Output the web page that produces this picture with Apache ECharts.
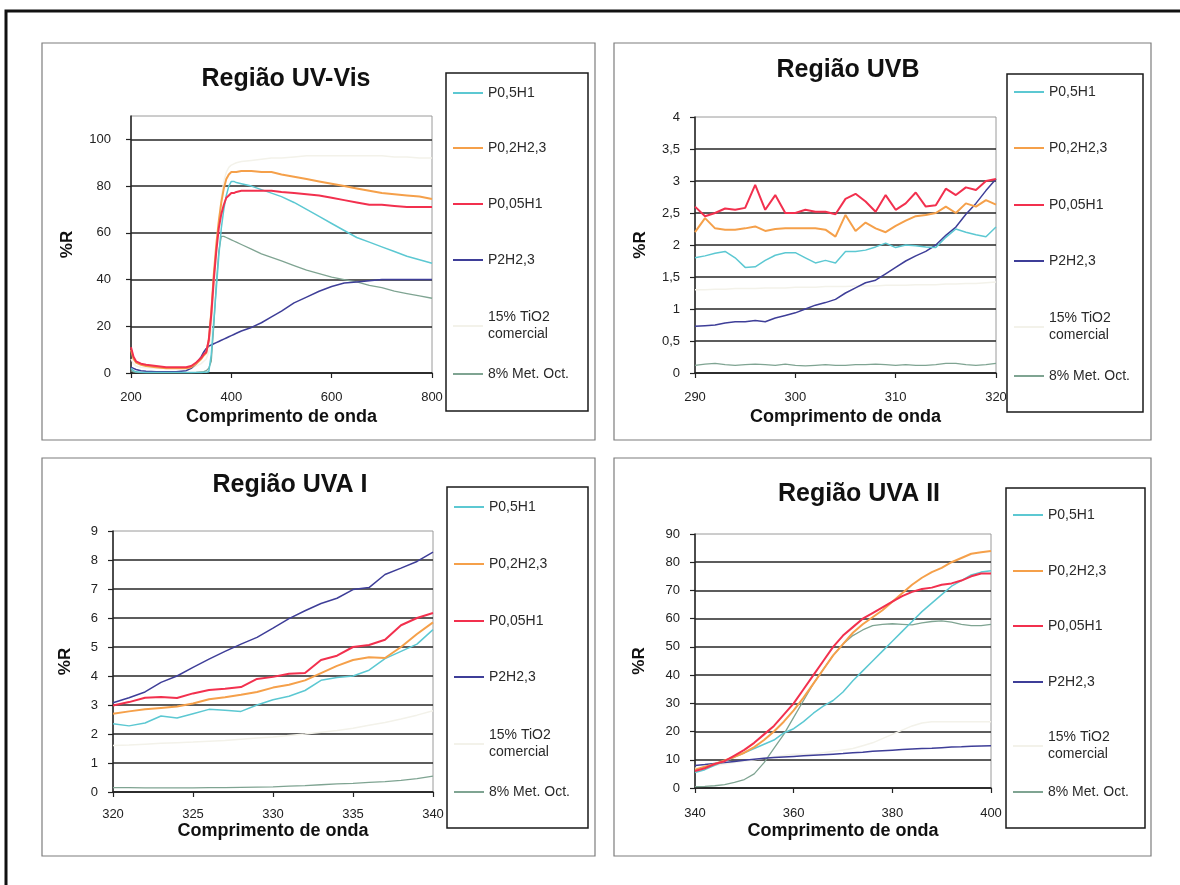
<!DOCTYPE html>
<html>
<head>
<meta charset="utf-8">
<script src="https://cdn.jsdelivr.net/npm/echarts@6/dist/echarts.min.js"></script>
<style>
html,body{margin:0;padding:0;background:#fff}
#chart{width:1180px;height:885px}
</style>
</head>
<body>
<div id="chart"></div>
<script>
// Sample names, in legend order
const seriesNames = ['P0,5H1', 'P0,2H2,3', 'P0,05H1', 'P2H2,3', '15% TiO2\ncomercial', '8% Met. Oct.'];
const seriesColors = ['#5cc8d2', '#f5a04a', '#f2304e', '#3e3e98', '#f3f2ea', '#7fa492'];
const seriesWidths = [1.5, 2, 2, 1.5, 1.5, 1.3];

// Região UV-Vis (200–800 nm)
const uvvisWavelength = [200,205,210,220,230,250,270,290,310,320,330,340,345,350,355,360,365,370,375,380,385,390,395,400,405,410,420,440,460,480,500,525,550,575,600,625,650,675,700,725,750,775,800];
const uvvisP05H1 = [2,1,0.5,0.3,0.2,0.2,0.2,0.2,0.2,0.2,0.2,0.2,0.3,0.3,0.5,8,22,36,50,62,70,76,80,82,82,81.5,81,80,78.5,77,75.5,73,70,67,64,61,58,56,54,52,50,48.5,47];
const uvvisP02H23 = [10,6,4.5,3.5,3,2.5,2,2,2,2.5,4,6,7.5,8.5,14,26,42,55,65,73,79,83,85,86,86,86,86.5,86.5,86,86,85,84,83,82,81,80,79,78,77,76.5,76,75.5,74.5];
const uvvisP005H1 = [11,7,5,4,3.5,3,2.5,2.5,2.5,3,4.5,6.5,8,9,14,25,40,52,62,68,72,75,76,77,77,77.5,78,78,78,78,77.5,77,76.5,76,75,74,73,72,72,71.5,71,71,71];
const uvvisP2H23 = [2.5,2,1.5,1,0.8,0.5,0.5,0.5,1,2,4,7,9,10.5,11.5,12,12.5,13,13.5,14,14.5,15,15.5,16,16.5,17,18,19.5,21.5,24,26.5,30,32.5,35,37,38.5,39,39.5,40,40,40,40,40];
const uvvisTiO2 = [6,4,3,2.5,2.2,2,2,2,2,2.2,3,4,5,6,9,18,35,52,65,75,82,86,88,89,89.5,90,90.5,91,91.5,92,92,92.5,93,93,93,93,93,93,93,92.5,92.5,92,92];
const uvvisMetOct = [1,0.5,0.3,0.2,0.2,0.2,0.2,0.2,0.2,0.2,0.3,0.5,0.6,1,2,5,20,38,52,58.5,58.5,58,57.5,57,56.5,56,55,53,51,49.5,48,46,44,42.5,41,40,39,37.5,36.5,35,34,33,32];

// Região UVB (290–320 nm)
const uvbWavelength = [290,291,292,293,294,295,296,297,298,299,300,301,302,303,304,305,306,307,308,309,310,311,312,313,314,315,316,317,318,319,320];
const uvbP05H1 = [1.8,1.83,1.87,1.9,1.8,1.65,1.66,1.76,1.84,1.88,1.88,1.8,1.72,1.76,1.72,1.9,1.9,1.92,1.97,2.03,1.96,2.0,1.99,1.97,1.96,2.12,2.25,2.2,2.16,2.13,2.28];
const uvbP02H23 = [2.2,2.42,2.26,2.24,2.24,2.26,2.29,2.22,2.25,2.26,2.26,2.26,2.26,2.24,2.13,2.47,2.22,2.35,2.26,2.2,2.3,2.38,2.45,2.47,2.5,2.6,2.5,2.65,2.6,2.7,2.63];
const uvbP005H1 = [2.6,2.45,2.5,2.57,2.55,2.58,2.94,2.55,2.78,2.5,2.5,2.55,2.52,2.52,2.48,2.72,2.8,2.68,2.52,2.78,2.55,2.65,2.82,2.6,2.62,2.88,2.78,2.9,2.86,3.0,3.03];
const uvbP2H23 = [0.73,0.74,0.75,0.78,0.8,0.8,0.82,0.8,0.86,0.9,0.94,1.0,1.06,1.1,1.15,1.25,1.33,1.41,1.45,1.55,1.65,1.75,1.83,1.9,2.0,2.15,2.28,2.48,2.65,2.85,3.03];
const uvbTiO2 = [1.3,1.3,1.31,1.31,1.32,1.32,1.32,1.33,1.33,1.33,1.34,1.34,1.34,1.35,1.35,1.35,1.36,1.36,1.36,1.37,1.37,1.37,1.38,1.38,1.38,1.39,1.39,1.4,1.4,1.41,1.42];
const uvbMetOct = [0.12,0.14,0.15,0.13,0.12,0.13,0.14,0.13,0.12,0.14,0.12,0.11,0.12,0.13,0.12,0.12,0.13,0.13,0.14,0.13,0.12,0.13,0.12,0.12,0.13,0.15,0.15,0.13,0.12,0.13,0.15];

// Região UVA I (320–340 nm)
const uva1Wavelength = [320,321,322,323,324,325,326,327,328,329,330,331,332,333,334,335,336,337,338,339,340];
const uva1P05H1 = [2.35,2.28,2.38,2.62,2.55,2.7,2.85,2.82,2.78,3.0,3.18,3.3,3.5,3.85,3.95,4.0,4.2,4.6,4.85,5.1,5.6];
const uva1P02H23 = [2.7,2.78,2.85,2.9,2.95,3.05,3.2,3.27,3.35,3.45,3.6,3.7,3.85,4.1,4.35,4.55,4.65,4.62,5.0,5.45,5.85];
const uva1P005H1 = [2.98,3.1,3.25,3.28,3.24,3.4,3.52,3.56,3.62,3.9,3.97,4.08,4.1,4.55,4.7,5.0,5.07,5.25,5.75,6.0,6.17];
const uva1P2H23 = [3.08,3.25,3.45,3.78,4.0,4.3,4.58,4.85,5.1,5.33,5.65,5.98,6.25,6.5,6.68,6.98,7.05,7.5,7.72,7.95,8.27];
const uva1TiO2 = [1.6,1.62,1.65,1.68,1.7,1.72,1.75,1.78,1.82,1.86,1.9,1.95,2.0,2.06,2.12,2.2,2.3,2.4,2.52,2.65,2.8];
const uva1MetOct = [0.15,0.15,0.14,0.14,0.14,0.14,0.15,0.15,0.16,0.17,0.18,0.2,0.22,0.25,0.28,0.3,0.33,0.36,0.4,0.46,0.55];

// Região UVA II (340–400 nm)
const uva2Wavelength = [340,342,344,346,348,350,352,354,356,358,360,362,364,366,368,370,372,374,376,378,380,382,384,386,388,390,392,394,396,398,400];
const uva2P05H1 = [5.5,6.5,8,9.5,11,12.5,14,15.5,17,19.5,21,23.5,26.5,29,31,34,38,41.5,45,48.5,52,55.5,59,62.5,65.5,68.5,71.5,73.5,75.5,76.5,77];
const uva2P02H23 = [6.5,7.5,8.5,9.8,11,12.5,14.5,17,20,23.5,27.5,32,37,42,47,51,55,58,60.5,63,66,69,72,74.5,76.5,78,80,81.5,83,83.5,84];
const uva2P005H1 = [6,7,8.5,9.5,11.5,13.5,16,19,22,26,30,35,40,45,50,54,57,60,62,64,66,68,69.5,70.5,71,72,72.5,73.5,75,76,76];
const uva2P2H23 = [8,8.3,8.7,9,9.4,9.8,10.2,10.5,10.8,11,11.2,11.4,11.6,11.8,12,12.2,12.5,12.7,13,13.2,13.4,13.6,13.8,14,14.1,14.3,14.5,14.6,14.8,14.9,15];
const uva2TiO2 = [7,7.5,8,8.5,9,9.5,10,10.5,11,11.5,12,12,12,12.5,13,13.5,14,15,16,17.5,19,20.5,22,23,23.5,23.5,23.5,23.5,23.5,23.5,23.5];
const uva2MetOct = [0.5,0.6,0.8,1.2,2,3,5,9,14,19,25,31,37,42,47,51,54,56,57.5,58,58.2,58,57.8,58.5,59,59.2,58.8,58,57.5,57.5,58];

const titles = ['Região UV-Vis', 'Região UVB', 'Região UVA I', 'Região UVA II'];
const xAxisTitle = 'Comprimento de onda';
const yAxisTitle = '%R';

// Layout of the four panels
const panels = [
  { title: titles[0], tx: 286, ty: 82, box: [42, 43, 553, 397],
    grid: { left: 131, top: 116, width: 301, height: 257 },
    x: { min: 200, max: 800, interval: 200 }, y: { min: 0, max: 110, interval: 20 }, hideMaxY: true,
    legendBox: [446, 73, 142, 338], legendX: 453, legendY: [94, 149, 205, 261, 327, 375],
    xLabelMargin: 18, xNameGap: 35, yLabelMargin: 20, yNameGap: 55,
    wl: uvvisWavelength, vals: [uvvisP05H1, uvvisP02H23, uvvisP005H1, uvvisP2H23, uvvisTiO2, uvvisMetOct] },
  { title: titles[1], tx: 848, ty: 73, box: [614, 43, 537, 397],
    grid: { left: 695, top: 117, width: 301, height: 256 },
    x: { min: 290, max: 320, interval: 10 }, y: { min: 0, max: 4, interval: 0.5 }, comma: true,
    legendBox: [1007, 74, 136, 338], legendX: 1014, legendY: [93, 149, 206, 262, 328, 377],
    xLabelMargin: 18, xNameGap: 35, yLabelMargin: 15, yNameGap: 46,
    wl: uvbWavelength, vals: [uvbP05H1, uvbP02H23, uvbP005H1, uvbP2H23, uvbTiO2, uvbMetOct] },
  { title: titles[2], tx: 290, ty: 488, box: [42, 458, 553, 398],
    grid: { left: 113, top: 531, width: 320, height: 261 },
    x: { min: 320, max: 340, interval: 5 }, y: { min: 0, max: 9, interval: 1 },
    legendBox: [447, 487, 141, 341], legendX: 454, legendY: [508, 565, 622, 678, 745, 793],
    xLabelMargin: 16, xNameGap: 30, yLabelMargin: 15, yNameGap: 39,
    wl: uva1Wavelength, vals: [uva1P05H1, uva1P02H23, uva1P005H1, uva1P2H23, uva1TiO2, uva1MetOct] },
  { title: titles[3], tx: 859, ty: 497, box: [614, 458, 537, 398],
    grid: { left: 695, top: 534, width: 296, height: 254 },
    x: { min: 340, max: 400, interval: 20 }, y: { min: 0, max: 90, interval: 10 },
    legendBox: [1006, 488, 139, 340], legendX: 1013, legendY: [516, 572, 627, 683, 747, 793],
    xLabelMargin: 19, xNameGap: 34, yLabelMargin: 15, yNameGap: 47,
    wl: uva2Wavelength, vals: [uva2P05H1, uva2P02H23, uva2P005H1, uva2P2H23, uva2TiO2, uva2MetOct] }
];

const FONT = '"Liberation Sans", Arial, sans-serif';
const LEGEND_LINE_HEIGHT = 17;
// drawing order: pale reference first, red last
const drawOrder = [4, 5, 3, 0, 1, 2];

const option = {
  backgroundColor: '#ffffff',
  animation: false,
  title: [], grid: [], xAxis: [], yAxis: [], series: [], legend: [], graphic: []
};

// outer frame
option.graphic.push({ type: 'rect', shape: { x: 6, y: 11, width: 1250, height: 950 },
  style: { fill: 'none', stroke: '#111', lineWidth: 3 }, z: 1 });

panels.forEach((p, pi) => {
  option.graphic.push({ type: 'rect', shape: { x: p.box[0], y: p.box[1], width: p.box[2], height: p.box[3] },
    style: { fill: 'none', stroke: '#7d7d7d', lineWidth: 1.2 }, z: 1 });
  option.graphic.push({ type: 'rect', shape: { x: p.legendBox[0], y: p.legendBox[1], width: p.legendBox[2], height: p.legendBox[3] },
    style: { fill: '#ffffff', stroke: '#1a1a1a', lineWidth: 1.5 }, z: 3 });

  option.title.push({ text: p.title, left: p.tx, top: p.ty - 15, textAlign: 'center', padding: 0,
    textStyle: { fontFamily: FONT, fontSize: 25, fontWeight: 'bold', color: '#111' } });

  option.grid.push({ left: p.grid.left, top: p.grid.top, width: p.grid.width, height: p.grid.height,
    show: true, borderColor: '#9a9a9a', borderWidth: 1, backgroundColor: 'transparent' });

  option.xAxis.push({
    type: 'value', gridIndex: pi, min: p.x.min, max: p.x.max, interval: p.x.interval,
    name: xAxisTitle, nameLocation: 'middle', nameGap: p.xNameGap,
    nameTextStyle: { fontFamily: FONT, fontSize: 18, fontWeight: 'bold', color: '#111' },
    axisLine: { show: true, onZero: false, lineStyle: { color: '#222', width: 1.5 } },
    axisTick: { show: true, inside: false, length: 5, lineStyle: { color: '#222', width: 1.2 } },
    axisLabel: { margin: p.xLabelMargin, fontFamily: FONT, fontSize: 13, color: '#222' },
    splitLine: { show: false }
  });

  option.yAxis.push({
    type: 'value', gridIndex: pi, min: p.y.min, max: p.y.max, interval: p.y.interval,
    name: yAxisTitle, nameLocation: 'middle', nameGap: p.yNameGap,
    nameTextStyle: { fontFamily: FONT, fontSize: 17, fontWeight: 'bold', color: '#111' },
    axisLine: { show: true, onZero: false, lineStyle: { color: '#222', width: 1.5 } },
    axisTick: { show: true, inside: false, length: 5, lineStyle: { color: '#222', width: 1.2 } },
    axisLabel: { margin: p.yLabelMargin, fontFamily: FONT, fontSize: 13, color: '#222',
      showMaxLabel: !p.hideMaxY,
      formatter: p.comma ? (v => String(v).replace('.', ',')) : (v => String(v)) },
    splitLine: { show: true, showMaxLine: false, lineStyle: { color: '#262626', width: 1.6 } }
  });

  drawOrder.forEach(si => {
    const wl = p.wl, vals = p.vals[si];
    option.series.push({
      type: 'line', name: seriesNames[si], xAxisIndex: pi, yAxisIndex: pi,
      data: wl.map((x, k) => [x, vals[k]]),
      symbol: 'none', showSymbol: false, clip: true,
      lineStyle: { color: seriesColors[si], width: seriesWidths[si] },
      itemStyle: { color: seriesColors[si] },
      emphasis: { disabled: true }
    });
  });

  // one legend entry per row so the rows keep their fixed spacing
  seriesNames.forEach((name, si) => {
    const lines = name.split('\n').length;
    option.legend.push({
      data: [name], left: p.legendX, top: p.legendY[si] - lines * LEGEND_LINE_HEIGHT / 2 - 1,
      orient: 'vertical', padding: 0, icon: 'rect', itemWidth: 30, itemHeight: 2, itemGap: 0,
      selectedMode: false, z: 5,
      textStyle: { fontFamily: FONT, fontSize: 14, color: '#2a2a2a', lineHeight: LEGEND_LINE_HEIGHT }
    });
  });
});

const chart = echarts.init(document.getElementById('chart'), null, { renderer: 'canvas' });
chart.setOption(option);
</script>
</body>
</html>
